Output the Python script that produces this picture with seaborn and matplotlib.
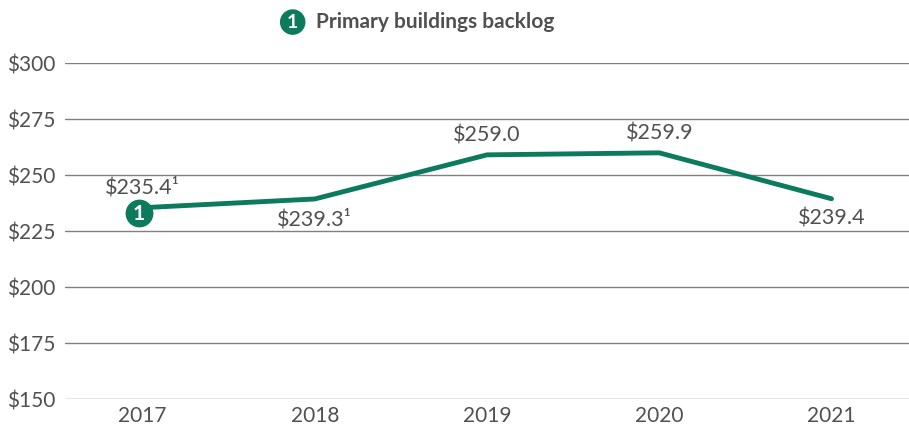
import matplotlib
matplotlib.use("Agg")
import matplotlib.pyplot as plt
import seaborn as sns
import pandas as pd

# chart data
years = ["2017", "2018", "2019", "2020", "2021"]
backlog = [235.4, 239.3, 259.0, 259.9, 239.4]
point_labels = ["$235.4\u00b9", "$239.3\u00b9", "$259.0", "$259.9", "$239.4"]
label_above = [True, False, True, True, False]
y_ticks = [150, 175, 200, 225, 250, 275, 300]
series_name = "Primary buildings backlog"

GREEN = "#0b7a5d"
TEXT = "#505050"

sns.set_theme(style="white")
plt.rcParams["font.family"] = ["Lato", "DejaVu Sans"]

df = pd.DataFrame({"year": years, "backlog": backlog})
df["x"] = range(len(df))

fig = plt.figure(figsize=(9.09, 4.33), dpi=100)
ax = fig.add_axes([0.0715, 0.0785, 0.9285, 0.776])

sns.lineplot(data=df, x="x", y="backlog", color=GREEN, linewidth=3.5, ax=ax)

ax.set_ylim(150, 300)
ax.set_xlim(-0.45, 4.45)
ax.set_yticks(y_ticks)
ax.set_yticklabels([f"${v}" for v in y_ticks], color=TEXT, fontsize=15)
ax.set_xticks(df["x"])
ax.set_xticklabels(years, color=TEXT, fontsize=15)
ax.tick_params(axis="both", length=0, pad=5)
ax.tick_params(axis="y", pad=7)
ax.set_xlabel("")
ax.set_ylabel("")
for s in ax.spines.values():
    s.set_visible(False)
ax.grid(axis="y", color="#808080", linewidth=1)
ax.set_axisbelow(True)

# value labels
for i, (v, lab, up) in enumerate(zip(backlog, point_labels, label_above)):
    ax.annotate(lab, (i, v), xytext=(0, 7 if up else -7), textcoords="offset points",
                ha="center", va="bottom" if up else "top", fontsize=15.5, color=TEXT)

# numbered marker on first point
ax.plot(-0.02, backlog[0] - 2.5, "o", markersize=19, color=GREEN, clip_on=False, zorder=5)
ax.text(-0.02, backlog[0] - 2.7, "1", ha="center", va="center", color="white",
        fontsize=15, fontweight="bold", zorder=6)

# legend-like header
fig.text(0.322, 0.949, "1", ha="center", va="center", color="white", fontsize=14,
         fontweight="bold", zorder=6,
         bbox=dict(boxstyle="circle,pad=0.22", fc=GREEN, ec="none"))
fig.text(0.348, 0.949, series_name, ha="left", va="center", color=TEXT,
         fontsize=15, fontweight="bold")

fig.savefig("out.png", dpi=100)
